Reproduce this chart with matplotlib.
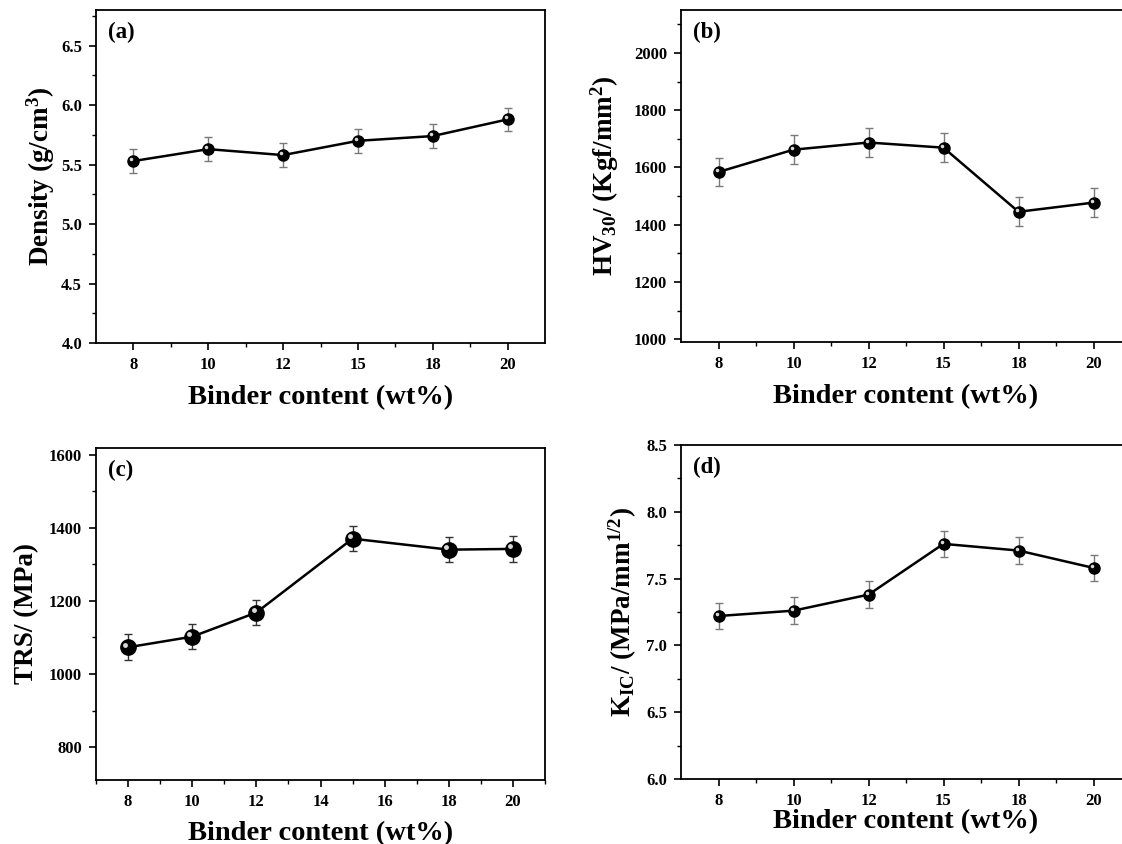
import numpy as np
import matplotlib
matplotlib.use("Agg")
import matplotlib.pyplot as plt
from matplotlib.ticker import MultipleLocator, FixedLocator
from matplotlib.transforms import offset_copy

# ── Données ────────────────────────────────────
binder = [8, 10, 12, 15, 18, 20]
binder_labels = ["8", "10", "12", "15", "18", "20"]

density = [5.53, 5.63, 5.58, 5.70, 5.74, 5.88]
density_err = [0.10, 0.10, 0.10, 0.10, 0.10, 0.10]

hv30 = [1584, 1662, 1687, 1669, 1445, 1477]
hv30_err = [50, 50, 50, 50, 50, 50]

trs = [1073, 1102, 1168, 1370, 1340, 1342]
trs_err = [35, 35, 35, 35, 35, 35]

kic = [7.22, 7.26, 7.38, 7.76, 7.71, 7.58]
kic_err = [0.10, 0.10, 0.10, 0.10, 0.10, 0.10]

plt.rcParams["font.family"] = ["Liberation Serif", "DejaVu Serif"]
plt.rcParams["font.weight"] = "bold"
plt.rcParams["axes.labelweight"] = "bold"
plt.rcParams["mathtext.fontset"] = "custom"
plt.rcParams["mathtext.rm"] = "Liberation Serif:bold"
plt.rcParams["mathtext.it"] = "Liberation Serif:bold"
plt.rcParams["mathtext.bf"] = "Liberation Serif:bold"
plt.rcParams["mathtext.default"] = "rm"

W, H = 1122, 844
fig = plt.figure(figsize=(W / 100, H / 100), dpi=100)


def box(x0, x1, y_top, y_bot):
    return [x0 / W, (H - y_bot) / H, (x1 - x0) / W, (y_bot - y_top) / H]


def draw_panel(ax, x, y, err, letter, ylabel, ylim, ymajor,
               ms=8, ecolor="#7a7a7a", xpad=12, ypad=6):
    ax.errorbar(x, y, yerr=err, fmt="none", ecolor=ecolor,
                elinewidth=1.0, capsize=3, capthick=1.0, zorder=2)
    ax.plot(x, y, color="black", linewidth=1.8, zorder=3)
    ax.plot(x, y, "o", color="black", markersize=ms, zorder=4)
    # petit reflet pour l'effet "bille"
    hl = offset_copy(ax.transData, fig=fig, x=-ms * 0.18, y=ms * 0.18,
                     units="points")
    ax.plot(x, y, "o", color="white", markersize=ms * 0.32, alpha=0.85,
            markeredgewidth=0, transform=hl, zorder=5)

    ax.set_ylim(*ylim)
    ax.yaxis.set_major_locator(MultipleLocator(ymajor))
    ax.yaxis.set_minor_locator(MultipleLocator(ymajor / 2))
    ax.set_ylabel(ylabel, fontsize=19.5, fontweight="bold", labelpad=ypad)
    ax.set_xlabel("Binder content (wt%)", fontsize=20.5, fontweight="bold",
                  labelpad=xpad)
    ax.text(0.027, 0.965, letter, transform=ax.transAxes, fontsize=16.5,
            fontweight="bold", va="top", ha="left")

    ax.tick_params(which="major", direction="out", length=5, width=1.2,
                   labelsize=12, pad=5, top=False, right=False)
    ax.tick_params(which="minor", direction="out", length=3, width=1.0,
                   top=False, right=False)
    for sp in ax.spines.values():
        sp.set_linewidth(1.3)


pos = np.arange(len(binder))

# (a) Densité
ax_a = fig.add_axes(box(96, 545, 10, 343))
draw_panel(ax_a, pos, density, density_err, "(a)",
           "Density (g/cm$^{3}$)", (4.0, 6.8), 0.5, xpad=9, ypad=3)
ax_a.set_xlim(-0.5, len(binder) - 0.5)
ax_a.set_xticks(pos)
ax_a.set_xticklabels(binder_labels)
ax_a.xaxis.set_minor_locator(FixedLocator(pos[:-1] + 0.5))
ax_a.yaxis.set_major_formatter(plt.FormatStrFormatter("%.1f"))

# (b) Dureté
ax_b = fig.add_axes(box(681, 1131, 10, 342))
draw_panel(ax_b, pos, hv30, hv30_err, "(b)",
           "HV$_{30}$/ (Kgf/mm$^{2}$)", (990, 2150), 200, xpad=9, ypad=9)
ax_b.set_xlim(-0.5, len(binder) - 0.5)
ax_b.set_xticks(pos)
ax_b.set_xticklabels(binder_labels)
ax_b.xaxis.set_minor_locator(FixedLocator(pos[:-1] + 0.5))

# (c) TRS (axe x numérique)
ax_c = fig.add_axes(box(96, 545, 448, 780))
draw_panel(ax_c, binder, trs, trs_err, "(c)",
           "TRS/ (MPa)", (710, 1618), 200, ms=11, ecolor="#333333",
           xpad=8, ypad=7)
ax_c.set_xlim(7, 21)
ax_c.xaxis.set_major_locator(MultipleLocator(2))
ax_c.xaxis.set_minor_locator(MultipleLocator(1))

# (d) Ténacité
ax_d = fig.add_axes(box(681, 1131, 445, 779))
draw_panel(ax_d, pos, kic, kic_err, "(d)",
           "K$_{IC}$/ (MPa/mm$^{1/2}$)", (6.0, 8.5), 0.5, xpad=0, ypad=5)
ax_d.set_xlim(-0.5, len(binder) - 0.5)
ax_d.set_xticks(pos)
ax_d.set_xticklabels(binder_labels)
ax_d.xaxis.set_minor_locator(FixedLocator(pos[:-1] + 0.5))
ax_d.yaxis.set_major_formatter(plt.FormatStrFormatter("%.1f"))

for ax in (ax_a, ax_b, ax_c, ax_d):
    for lab in ax.get_xticklabels() + ax.get_yticklabels():
        lab.set_fontweight("bold")

fig.savefig("out.png", dpi=100)
plt.close(fig)
